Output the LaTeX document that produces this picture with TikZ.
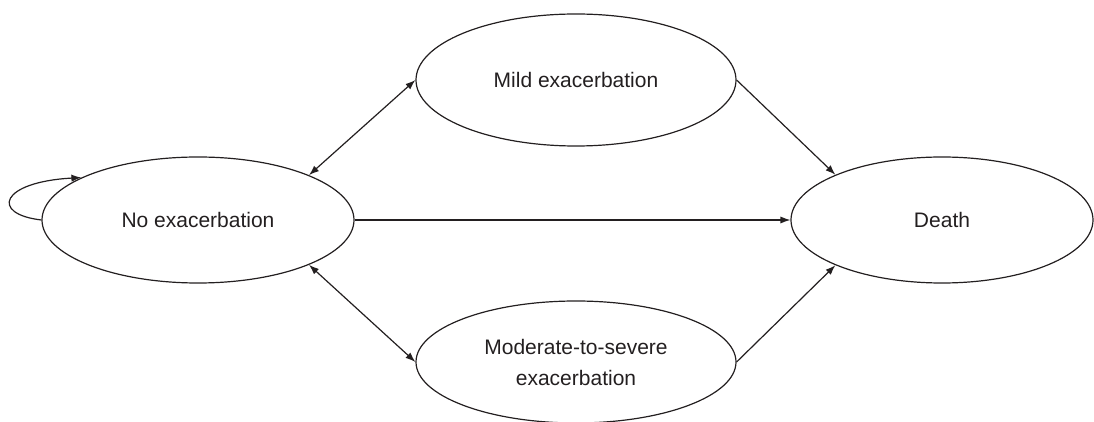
\documentclass[tikz,border=0pt]{standalone}
\usepackage{fontspec}
\setmainfont{Liberation Sans}
\usetikzlibrary{shapes.geometric,arrows.meta}
\definecolor{viiva}{RGB}{35,31,32}
\begin{document}
\begin{tikzpicture}[x=0.5pt, y=-0.5pt,
		tila/.style = {draw=viiva, ellipse, line width=0.6pt, text=viiva, align=center, font=\fontsize{10.5}{15.5}\selectfont},
		nuoli/.style = {draw=viiva, line width=0.6pt, -{Latex[length=5pt,width=3.6pt]}},
		kaksi/.style = {nuoli, {Latex[length=5pt,width=3.6pt]}-{Latex[length=5pt,width=3.6pt]}}]
		\useasboundingbox (0,0) rectangle (1094,422);
		% Tilat
		\node[tila, minimum width=156pt, minimum height=63pt] (no) at (198,220) {No exacerbation};
		\node[tila, minimum width=160pt, minimum height=66pt] (mild) at (576,80) {Mild exacerbation};
		\node[tila, minimum width=160pt, minimum height=61pt] (mod) at (576,362) {Moderate-to-severe\\exacerbation};
		\node[tila, minimum width=151pt, minimum height=63pt] (death) at (942,220) {Death};
		% Siirtymat
		\draw[nuoli] (no.west) .. controls (-10,214) and (0,182) .. (no.160);	% NN
		\draw[kaksi] (no.22) -- (mild.west);		% NM
		\draw[kaksi] (no.-22) -- (mod.west);		% NS
		\draw[nuoli] (no.east) -- (death.west);		% ND
		\draw[nuoli] (mild.east) -- (death.157);	% MD
		\draw[nuoli] (mod.east) -- (death.203);		% SD
\end{tikzpicture}
\end{document}
